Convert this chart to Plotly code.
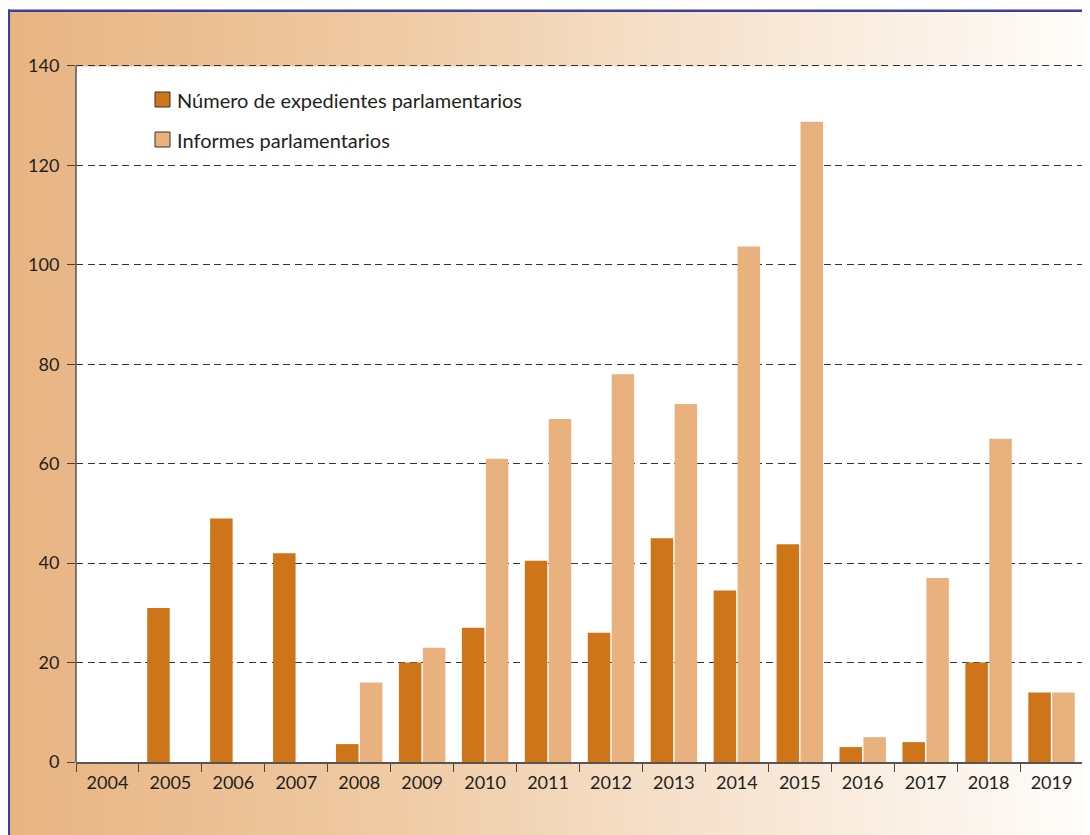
import base64
import plotly.graph_objects as go

years = ["2004", "2005", "2006", "2007", "2008", "2009", "2010", "2011",
         "2012", "2013", "2014", "2015", "2016", "2017", "2018", "2019"]
expedientes = [0, 31, 49, 42, 3.6, 20, 27, 40.5, 26, 45, 34.5, 43.8, 3, 4, 20, 14]
informes = [0, 0, 0, 0, 16, 23, 61, 69, 78, 72, 103.7, 128.8, 5, 37, 65, 14]
y_ticks = [0, 20, 40, 60, 80, 100, 120, 140]

name_exp = "Número de expedientes parlamentarios"
name_inf = "Informes parlamentarios"

C_DARK = "#CE7419"
C_LIGHT = "#E8B17E"
TXT = "#231F20"
FONT = "Lato"

# the page adds an 8px body margin; figure pixel coords = page coords - 8
OFF = 8
W, H = 1090 - OFF, 835 - OFF
ML, MR, MT, MB = 68, 7, 55, 73
PW, PH = W - ML - MR, H - MT - MB


def px_x(p):  # page pixel -> paper x
    return (p - OFF - ML) / PW


def px_y(p):  # page pixel -> paper y
    return (H - MB - (p - OFF)) / PH


svg = (
    '<svg xmlns="http://www.w3.org/2000/svg" width="1000" height="1000" preserveAspectRatio="none">'
    '<defs><linearGradient id="g" x1="0" y1="0" x2="1" y2="0">'
    '<stop offset="0" stop-color="#E8B482"/>'
    '<stop offset="0.35" stop-color="#EFCAA3"/>'
    '<stop offset="0.6" stop-color="#F5DFC8"/>'
    '<stop offset="1" stop-color="#FFFDFB"/>'
    '</linearGradient></defs>'
    '<rect x="0" y="0" width="1000" height="1000" fill="url(#g)"/></svg>'
)
src = "data:image/svg+xml;base64," + base64.b64encode(svg.encode()).decode()

fig = go.Figure()
fig.add_trace(go.Bar(x=years, y=expedientes, name=name_exp, marker=dict(color=C_DARK, line_width=0),
                     showlegend=False))
fig.add_trace(go.Bar(x=years, y=informes, name=name_inf, marker=dict(color=C_LIGHT, line_width=0),
                     showlegend=False))

shapes = [
    # white plot area (page y 66..762)
    dict(type="rect", xref="paper", yref="paper", x0=0, x1=1, y0=0, y1=px_y(66.5),
         fillcolor="white", line_width=0, layer="below"),
    dict(type="line", xref="paper", yref="paper", x0=px_x(7.5), x1=px_x(1092), y0=px_y(10.7), y1=px_y(10.7),
         line=dict(color="#3C3F9C", width=2.5), layer="above"),
    dict(type="line", xref="paper", yref="paper", x0=px_x(8.8), x1=px_x(8.8), y0=px_y(9.5), y1=px_y(837),
         line=dict(color="#3C3F9C", width=2.5), layer="above"),
]
annotations = []
legend_items = [(name_exp, C_DARK, 99.5), (name_inf, C_LIGHT, 139.5)]
for name, col, cy in legend_items:
    shapes.append(dict(type="rect", xref="paper", yref="paper",
                       x0=px_x(155), x1=px_x(170), y0=px_y(cy - 7.5), y1=px_y(cy + 7.5),
                       fillcolor=col, line=dict(color="#3a3030", width=1), layer="above"))
    annotations.append(dict(text=name, xref="paper", yref="paper", x=px_x(175), y=px_y(cy),
                            xanchor="left", yanchor="middle", showarrow=False,
                            font=dict(family=FONT, size=20, color=TXT)))

fig.update_layout(
    width=W, height=H,
    margin=dict(l=ML, r=MR, t=MT, b=MB, pad=0),
    paper_bgcolor="white",
    plot_bgcolor="rgba(0,0,0,0)",
    barmode="group",
    bargap=0.24,
    bargroupgap=0.06,
    font=dict(family=FONT, size=18, color=TXT),
    showlegend=False,
    images=[dict(source=src, xref="paper", yref="paper", x=px_x(9), y=px_y(12),
                 sizex=(1090 - 9) / PW, sizey=(835 - 12) / PH, sizing="stretch",
                 xanchor="left", yanchor="top", layer="below")],
    shapes=shapes,
    annotations=annotations,
    xaxis=dict(
        type="category", tickson="boundaries", ticks="outside", ticklen=8, tickwidth=1.3,
        tickcolor="#444", showline=True, linecolor="#555", linewidth=1.5,
        showgrid=False, tickfont=dict(size=18, color=TXT), fixedrange=True,
        ticklabelstandoff=4,
    ),
    yaxis=dict(
        range=[0, 140.6], tickvals=y_ticks, ticks="outside", ticklen=8, tickwidth=1.3,
        tickcolor="#444", showline=False,
        showgrid=True, gridcolor="#333333", griddash="7px,4.5px", gridwidth=1.3,
        zeroline=False, tickfont=dict(size=18, color=TXT), ticklabelstandoff=4,
    ),
)
# y axis line from 0 to 140 only (as in the reference)
fig.add_shape(type="line", xref="paper", yref="y", x0=0, x1=0, y0=0, y1=140,
              line=dict(color="#555", width=1.5), layer="above")

fig.write_html("out.html")
